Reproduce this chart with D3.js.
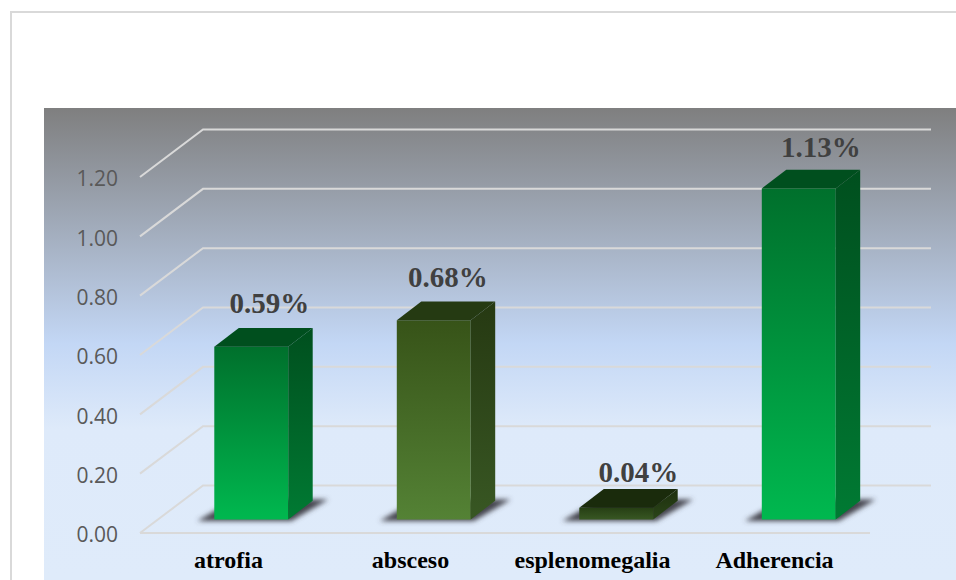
<!DOCTYPE html>
<html><head><meta charset="utf-8">
<script src="https://cdn.jsdelivr.net/npm/d3@7"></script>
<style>html,body{margin:0;padding:0;background:#fff;overflow:hidden}svg{display:block}</style>
</head><body><svg id="c" width="956" height="580"></svg>
<script>
const categories = ["atrofia","absceso","esplenomegalia","Adherencia"];
const values = [0.59,0.68,0.04,1.13];
const valueLabels = ["0.59%","0.68%","0.04%","1.13%"];
const tickValues = [0,0.2,0.4,0.6,0.8,1.0,1.2];
const labelNudgeX = [0,-4,4,4];
const labelNudgeY = [-3,-3,5,-1];
const palette = [
 {ft:"#00702c",fb:"#00b84f",st:"#004f1e",sb:"#007a33",top:"#004f1e"},
 {ft:"#375318",fb:"#548235",st:"#263912",sb:"#385723",top:"#253a12"},
 {ft:"#263f14",fb:"#385723",st:"#1d2f0e",sb:"#2b4519",top:"#1a2b0c"},
 {ft:"#00702c",fb:"#00b84f",st:"#004f1e",sb:"#007a33",top:"#004f1e"}];

const svg = d3.select("#c");
const defs = svg.append("defs");
const bg = defs.append("linearGradient").attr("id","bg").attr("x1",0).attr("x2",0).attr("y1",0).attr("y2",1);
[[0,"#7f7f7f"],[0.5,"#c3d7f5"],[0.68,"#deeafa"],[1,"#dfebfa"]].forEach(s=>bg.append("stop").attr("offset",s[0]).attr("stop-color",s[1]));
defs.append("filter").attr("id","blur").attr("x","-30%").attr("y","-50%").attr("width","160%").attr("height","200%")
  .append("feGaussianBlur").attr("stdDeviation",2.5);
function grad(id,a,b){const g=defs.append("linearGradient").attr("id",id).attr("x1",0).attr("x2",0).attr("y1",0).attr("y2",1);
  g.append("stop").attr("offset",0).attr("stop-color",a);g.append("stop").attr("offset",1).attr("stop-color",b);}
palette.forEach((p,i)=>{grad("f"+i,p.ft,p.fb);grad("s"+i,p.st,p.sb);});

// frame and panel
svg.append("path").attr("d","M11,580V12H956").attr("fill","none").attr("stroke","#d9d9d9").attr("stroke-width",2);
svg.append("rect").attr("x",44).attr("y",108).attr("width",912).attr("height",472).attr("fill","url(#bg)");

const yFront = d3.scaleLinear().domain([0,1.2]).range([533,177]);
const wallDX = 63, wallDY = 47.5, wallEnd = 931, floorEnd = 870, floorStart = 140;

// gridlines
const grid = svg.append("g").attr("fill","none").attr("stroke","#d9d9d9").attr("stroke-width",2);
grid.selectAll("path").data(tickValues).join("path")
  .attr("d",v=>{const y=yFront(v);
    const p=d3.path();p.moveTo(floorStart,y);p.lineTo(floorStart+wallDX,y-wallDY);p.lineTo(wallEnd,y-wallDY);
    if(v===0){p.moveTo(floorStart,y);p.lineTo(floorEnd,y);}
    return p.toString();});

// y axis
const axisG = svg.append("g").attr("transform","translate(118,2)")
  .call(d3.axisLeft(yFront).tickValues(tickValues).tickFormat(d3.format(".2f")).tickSize(0).tickPadding(0));
axisG.select(".domain").remove();
axisG.selectAll("text").attr("fill","#595959").attr("font-family","'Open Sans'").attr("font-size",21);

// bars
const xBar = d3.scaleBand().domain(categories).range([160,890]).paddingInner(0.595).paddingOuter(0.2975);
const yBar = d3.scaleLinear().domain([0,1.2]).range([519.5,519.5-1.2*293]);
const dx = 24.5, dy = 18.7;
const bars = svg.append("g").selectAll("g").data(categories).join("g");
const poly = pts=>d3.line()(pts)+"Z";
bars.append("path").attr("filter","url(#blur)").attr("fill","#45454e")
  .attr("d",c=>{const x=xBar(c),w=xBar.bandwidth(),b=yBar(0);
    return poly([[x-17,b+1.5],[x+w+3,b+1.5],[x+w+40,b-20],[x+20,b-20]]);});
bars.append("rect").attr("x",c=>xBar(c)).attr("width",xBar.bandwidth())
  .attr("y",(c,i)=>yBar(values[i])).attr("height",(c,i)=>yBar(0)-yBar(values[i]))
  .attr("fill",(c,i)=>`url(#f${i})`);
bars.append("path").attr("fill",(c,i)=>`url(#s${i})`)
  .attr("d",(c,i)=>{const x=xBar(c)+xBar.bandwidth(),t=yBar(values[i]),b=yBar(0);
    return poly([[x,t],[x+dx,t-dy],[x+dx,b-dy],[x,b]]);});
bars.append("path").attr("fill",(c,i)=>palette[i].top)
  .attr("d",(c,i)=>{const x=xBar(c),w=xBar.bandwidth(),t=yBar(values[i]);
    return poly([[x,t],[x+dx,t-dy],[x+w+dx,t-dy],[x+w,t]]);});

// value labels
svg.append("g").selectAll("text").data(categories).join("text")
  .attr("x",(c,i)=>xBar(c)+xBar.bandwidth()/2+18+labelNudgeX[i])
  .attr("y",(c,i)=>yBar(values[i])-dy-12+labelNudgeY[i])
  .attr("text-anchor","middle").attr("font-family","'Liberation Serif'").attr("font-weight","bold")
  .attr("font-size",29).attr("fill","#404040").text((c,i)=>valueLabels[i]);

// category labels
const xCat = d3.scaleBand().domain(categories).range([137.5,865.5]);
svg.append("g").selectAll("text").data(categories).join("text")
  .attr("x",c=>xCat(c)+xCat.bandwidth()/2).attr("y",568)
  .attr("text-anchor","middle").attr("font-family","'Liberation Serif'").attr("font-weight","bold")
  .attr("font-size",24).attr("fill","#000").text(c=>c);
</script></body></html>
